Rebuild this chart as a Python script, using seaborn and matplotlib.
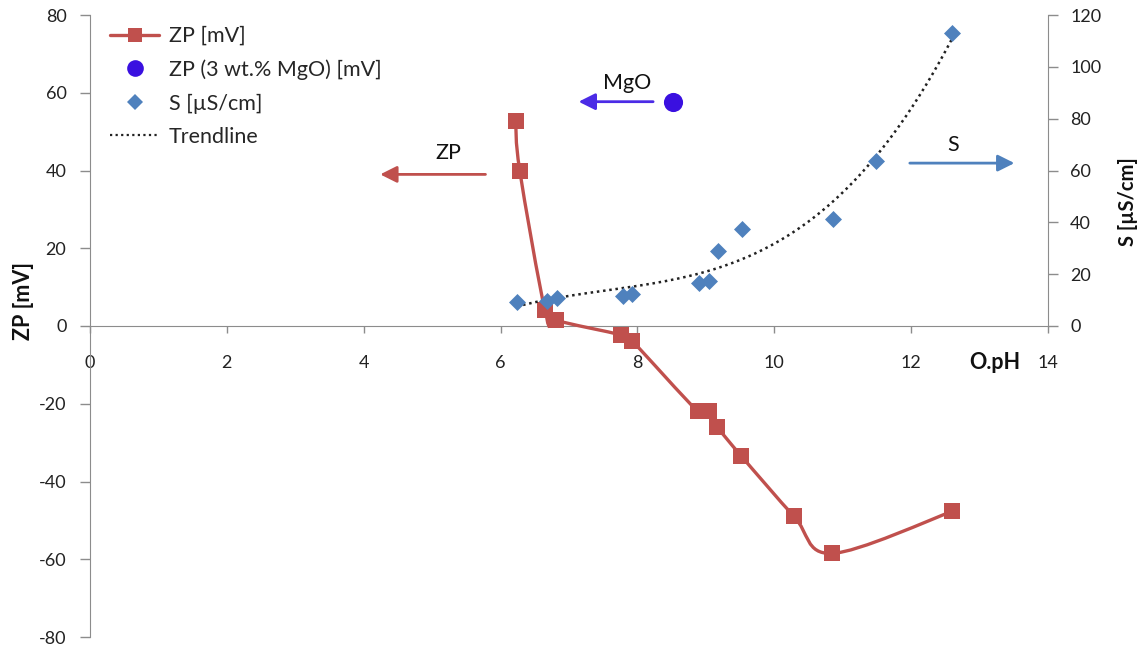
import numpy as np
import pandas as pd
import matplotlib
matplotlib.use("Agg")
import matplotlib.pyplot as plt
from matplotlib.path import Path
from matplotlib.patches import PathPatch
from matplotlib.lines import Line2D
import seaborn as sns

# --- data ---
zp_ph = [6.22, 6.28, 6.65, 6.81, 7.76, 7.92, 8.88, 9.04, 9.17, 9.52, 10.29, 10.84, 12.6]
zp_mv = [52.8, 40.0, 4.0, 1.5, -2.3, -3.8, -21.9, -21.9, -26.0, -33.5, -49.0, -58.5, -47.7]

mgo_ph = [8.52]
mgo_mv = [57.7]

s_ph = [6.24, 6.68, 6.83, 7.79, 7.92, 8.9, 9.05, 9.18, 9.53, 10.86, 11.49, 12.6]
s_val = [9.4, 9.8, 10.8, 11.7, 12.5, 16.5, 17.5, 29.0, 37.5, 41.3, 63.8, 113.0]

red = '#C0504D'
blue = '#4F81BD'
violet = '#3A10E0'
spine_c = '#8C8C8C'

sns.set_style("white")
plt.rcParams['font.family'] = ['Lato', 'DejaVu Sans']
plt.rcParams['axes.unicode_minus'] = False

fig = plt.figure(figsize=(11.44, 6.52), dpi=100)
ax = fig.add_axes([90 / 1144, 1 - 637 / 652, (1048 - 90) / 1144, 622 / 652])
ax2 = ax.twinx()

# ZP curve: Excel-style smoothed line (Catmull-Rom as Bezier segments)
def smooth_path(xs, ys):
    p = np.column_stack([xs, ys])
    verts = [p[0]]
    codes = [Path.MOVETO]
    n = len(p)
    for i in range(n - 1):
        p0 = p[i - 1] if i > 0 else p[i]
        p3 = p[i + 2] if i + 2 < n else p[i + 1]
        c1 = p[i] + (p[i + 1] - p0) / 6
        c2 = p[i + 1] - (p3 - p[i]) / 6
        verts += [c1, c2, p[i + 1]]
        codes += [Path.CURVE4] * 3
    return Path(verts, codes)

ax.add_patch(PathPatch(smooth_path(zp_ph, zp_mv), fill=False, edgecolor=red, lw=2.4, zorder=3))
zp_df = pd.DataFrame({'pH': zp_ph, 'ZP': zp_mv})
sns.scatterplot(data=zp_df, x='pH', y='ZP', marker='s', s=130, color=red, edgecolor=red,
                linewidth=0, ax=ax, zorder=4, legend=False)
sns.scatterplot(x=mgo_ph, y=mgo_mv, marker='o', s=190, color=violet, edgecolor=violet,
                linewidth=0, ax=ax, zorder=4, legend=False)

# S on the secondary axis with polynomial trendline fitted to the points
s_df = pd.DataFrame({'pH': s_ph, 'S': s_val})
coef = np.polyfit(s_df['pH'], s_df['S'], 3)
trend_x = np.linspace(min(s_ph), max(s_ph), 200)
trend_df = pd.DataFrame({'pH': trend_x, 'S': np.polyval(coef, trend_x)})
sns.lineplot(data=trend_df, x='pH', y='S', color='#222222', lw=1.8, linestyle=(0, (1, 1.5)),
             ax=ax2, zorder=2)
sns.scatterplot(data=s_df, x='pH', y='S', marker='D', s=75, color=blue, edgecolor=blue,
                linewidth=0, ax=ax2, zorder=3, legend=False)

# axes styling
ax.set_xlim(0, 14)
ax.set_ylim(-80, 80)
ax2.set_ylim(-120, 120)
ax.set_xticks(range(0, 15, 2))
ax.set_yticks(range(-80, 81, 20))
ax2.set_yticks(range(0, 121, 20))

for sp in ['top', 'right']:
    ax.spines[sp].set_visible(False)
for sp in ['top', 'left', 'bottom']:
    ax2.spines[sp].set_visible(False)
ax.spines['bottom'].set_position(('data', 0))
ax.spines['left'].set_color(spine_c)
ax.spines['bottom'].set_color(spine_c)
ax2.spines['right'].set_color(spine_c)
ax2.spines['right'].set_bounds(0, 120)
ax2.spines['right'].set_visible(True)

ax.tick_params(axis='x', direction='out', length=5, width=1, color=spine_c, pad=16,
               labelsize=13, labelcolor='#222222', bottom=True)
ax.tick_params(axis='y', direction='out', length=7, width=1, color=spine_c, pad=10,
               labelsize=13, labelcolor='#222222', left=True)
ax2.tick_params(axis='y', direction='out', length=7, width=1, color=spine_c, pad=9,
                labelsize=13, labelcolor='#222222', right=True)

ax.set_xlabel('')
ax.set_ylabel('ZP [mV]', fontsize=15.5, fontweight='bold', color='#111111')
ax.yaxis.set_label_coords(-0.058, 0.54)
ax2.set_xlabel('')
ax2.set_ylabel('S [µS/cm]', fontsize=14.5, fontweight='bold', color='#111111')
ax2.yaxis.set_label_coords(1.073, 0.70)
ax.text(13.23, -9.5, 'O.pH', fontsize=15.5, fontweight='bold', color='#111111',
        ha='center', va='center')

# arrows with labels
ax.annotate('', xy=(4.2, 39), xytext=(5.82, 39),
            arrowprops=dict(arrowstyle='-|>', color=red, lw=2, mutation_scale=25))
ax.text(5.23, 44.5, 'ZP', fontsize=15.5, ha='center', va='center', color='#111111')
ax.annotate('', xy=(7.1, 57.7), xytext=(8.27, 57.7),
            arrowprops=dict(arrowstyle='-|>', color='#4B2BE6', lw=2, mutation_scale=25))
ax.text(7.85, 62.5, 'MgO', fontsize=15.5, ha='center', va='center', color='#111111')
ax.annotate('', xy=(13.55, 41.9), xytext=(11.94, 41.9),
            arrowprops=dict(arrowstyle='-|>', color=blue, lw=2, mutation_scale=25))
ax.text(12.62, 46.5, 'S', fontsize=15.5, ha='center', va='center', color='#111111')

# legend
handles = [
    Line2D([], [], color=red, lw=2.4, marker='s', markersize=10, markeredgewidth=0),
    Line2D([], [], color=violet, lw=0, marker='o', markersize=12, markeredgewidth=0),
    Line2D([], [], color=blue, lw=0, marker='D', markersize=8, markeredgewidth=0),
    Line2D([], [], color='#222222', lw=1.6, linestyle=(0, (1, 1.5))),
]
labels = ['ZP [mV]', 'ZP (3 wt.% MgO) [mV]', 'S [µS/cm]', 'Trendline']
fig.legend(handles, labels, loc='upper left', bbox_to_anchor=(0.096, 0.96), frameon=False,
           fontsize=15.5, labelspacing=0.62, handlelength=2.3, handletextpad=0.45,
           borderaxespad=0, borderpad=0)

fig.savefig('out.png', dpi=100)
